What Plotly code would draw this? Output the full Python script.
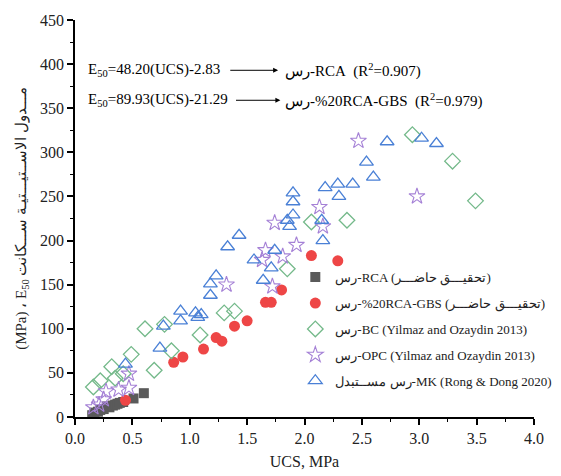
import plotly.graph_objects as go

# ---- data (UCS MPa, E50 MPa) ----
rca_ucs = [0.15, 0.17, 0.20, 0.22, 0.25, 0.28, 0.30, 0.33, 0.35, 0.37, 0.39, 0.42, 0.51, 0.60]
rca_e50 = [2, 5, 6, 8, 9, 12, 11, 13, 14, 15, 16, 17, 21, 27]

gbs_ucs = [0.44, 0.86, 0.94, 1.12, 1.23, 1.28, 1.39, 1.50, 1.66, 1.71, 1.80, 2.06, 2.29]
gbs_e50 = [19, 62, 68, 77, 90, 86, 103, 109, 130, 130, 144, 183, 177]

bc_ucs = [0.16, 0.22, 0.32, 0.35, 0.42, 0.49, 0.61, 0.69, 0.78, 0.84, 1.09, 1.30, 1.39,
          1.85, 2.06, 2.37, 2.94, 3.29, 3.49]
bc_e50 = [34, 41, 57, 44, 49, 71, 100, 53, 105, 75, 93, 118, 120, 168, 221, 223, 320, 290, 245]

opc_ucs = [0.16, 0.21, 0.25, 0.27, 0.38, 0.47, 0.47, 1.32, 1.63, 1.66, 1.72, 1.74, 1.81,
           1.93, 2.13, 2.16, 2.47, 2.98]
opc_e50 = [11, 14, 20, 29, 31, 33, 49, 150, 178, 189, 148, 220, 182, 195, 238, 216, 313, 250]

mk_ucs = [0.44, 0.74, 0.77, 0.92, 0.92, 1.05, 1.07, 1.10, 1.18, 1.18, 1.23, 1.33, 1.43,
          1.56, 1.64, 1.71, 1.74, 1.85, 1.87, 1.90, 1.90, 1.90, 2.16, 2.15, 2.18, 2.30,
          2.29, 2.42, 2.60, 2.54, 2.72, 3.02, 3.15]
mk_e50 = [60, 78, 103, 109, 120, 118, 113, 116, 138, 151, 160, 193, 206, 178, 155, 169,
          189, 223, 216, 229, 244, 254, 200, 223, 260, 250, 264, 264, 272, 289, 312, 316, 310]

LRM = "\u200e"
names = [
    "رس-RCA (تحقيـــق حاضـــر)",
    "رس" + LRM + "-%20RCA-GBS (تحقيـــق حاضـــر)",
    "رس-BC (Yilmaz and Ozaydin 2013)",
    "رس-OPC (Yilmaz and Ozaydin 2013)",
    "رس مســتبدل-MK (Rong & Dong 2020)",
]

FONT = "Liberation Serif"

fig = go.Figure()
fig.add_trace(go.Scatter(x=rca_ucs, y=rca_e50, mode="markers", name=names[0], legendgroup="a",
                         marker=dict(symbol="square", size=10, color="#5a5a5a")))
fig.add_trace(go.Scatter(x=gbs_ucs, y=gbs_e50, mode="markers", name=names[1], legendgroup="b",
                         marker=dict(symbol="circle", size=11, color="#ee4646")))
fig.add_trace(go.Scatter(x=bc_ucs, y=bc_e50, mode="markers", name=names[2], legendgroup="c",
                         marker=dict(symbol="diamond-open", size=12, color="#74b98a",
                                     line=dict(width=1.3))))
fig.add_trace(go.Scatter(x=opc_ucs, y=opc_e50, mode="markers", name=names[3], legendgroup="d",
                         marker=dict(symbol="star-open", size=12, color="#a581d6",
                                     line=dict(width=1.1))))
fig.add_trace(go.Scatter(x=mk_ucs, y=mk_e50, mode="markers", name=names[4], legendgroup="e",
                         marker=dict(symbol="triangle-up-open", size=12, color="#4a80d6",
                                     line=dict(width=1.3))))

# equations
fig.add_annotation(x=0.10, y=393, xref="x", yref="y", xanchor="left", showarrow=False,
                   text="E<sub>50</sub>=48.20(UCS)-2.83", font=dict(size=15, color="black", family=FONT))
fig.add_annotation(x=0.10, y=359, xref="x", yref="y", xanchor="left", showarrow=False,
                   text="E<sub>50</sub>=89.93(UCS)-21.29", font=dict(size=15, color="black", family=FONT))
fig.add_annotation(x=1.77, y=393, ax=1.34, ay=393, xref="x", yref="y", axref="x", ayref="y",
                   text="", showarrow=True, arrowhead=2, arrowsize=1, arrowwidth=1, arrowcolor="black")
fig.add_annotation(x=1.79, y=359, ax=1.39, ay=359, xref="x", yref="y", axref="x", ayref="y",
                   text="", showarrow=True, arrowhead=2, arrowsize=1, arrowwidth=1, arrowcolor="black")
fig.add_annotation(x=1.81, y=393, xref="x", yref="y", xanchor="left", showarrow=False,
                   text="رس-RCA\u00a0\u00a0(R<sup>2</sup>=0.907)",
                   font=dict(size=15, color="black", family=FONT))
fig.add_annotation(x=1.81, y=359, xref="x", yref="y", xanchor="left", showarrow=False,
                   text="رس" + LRM + "-%20RCA-GBS\u00a0\u00a0(R<sup>2</sup>=0.979)",
                   font=dict(size=15, color="black", family=FONT))

axis_common = dict(showline=True, linecolor="black", linewidth=1.5, ticks="outside",
                   ticklen=6, tickwidth=1.5, tickcolor="black", showgrid=False, zeroline=False,
                   tickfont=dict(size=16, color="#222", family=FONT), mirror=False)

fig.update_xaxes(range=[0, 4], dtick=0.5, tickformat=".1f",
                 minor=dict(ticks="outside", dtick=0.25, ticklen=3, tickwidth=1.2, tickcolor="black"),
                 title=dict(text="UCS, MPa", font=dict(size=16, color="#222", family=FONT), standoff=10),
                 **axis_common)
fig.update_yaxes(range=[0, 450], dtick=50,
                 minor=dict(ticks="outside", dtick=25, ticklen=3, tickwidth=1.2, tickcolor="black"),
                 title=dict(text="(MPa) ، E<sub>50</sub> مـــدول الاســتيـــتيـة ســـكانت",
                            font=dict(size=15, color="#222", family=FONT), standoff=10),
                 **axis_common)

fig.update_layout(
    width=561, height=476,
    margin=dict(l=75, r=27, t=20, b=59, autoexpand=False),
    paper_bgcolor="white", plot_bgcolor="white",
    font=dict(family=FONT, color="#222"),
    legend=dict(x=0.48, y=0.39, xanchor="left", yanchor="top", bgcolor="rgba(0,0,0,0)",
                font=dict(size=13, family=FONT, color="#222"), tracegroupgap=6,
                traceorder="grouped"),
)

fig.write_html("out.html", config={"displayModeBar": False},
               post_script="document.body.style.margin='0';")
